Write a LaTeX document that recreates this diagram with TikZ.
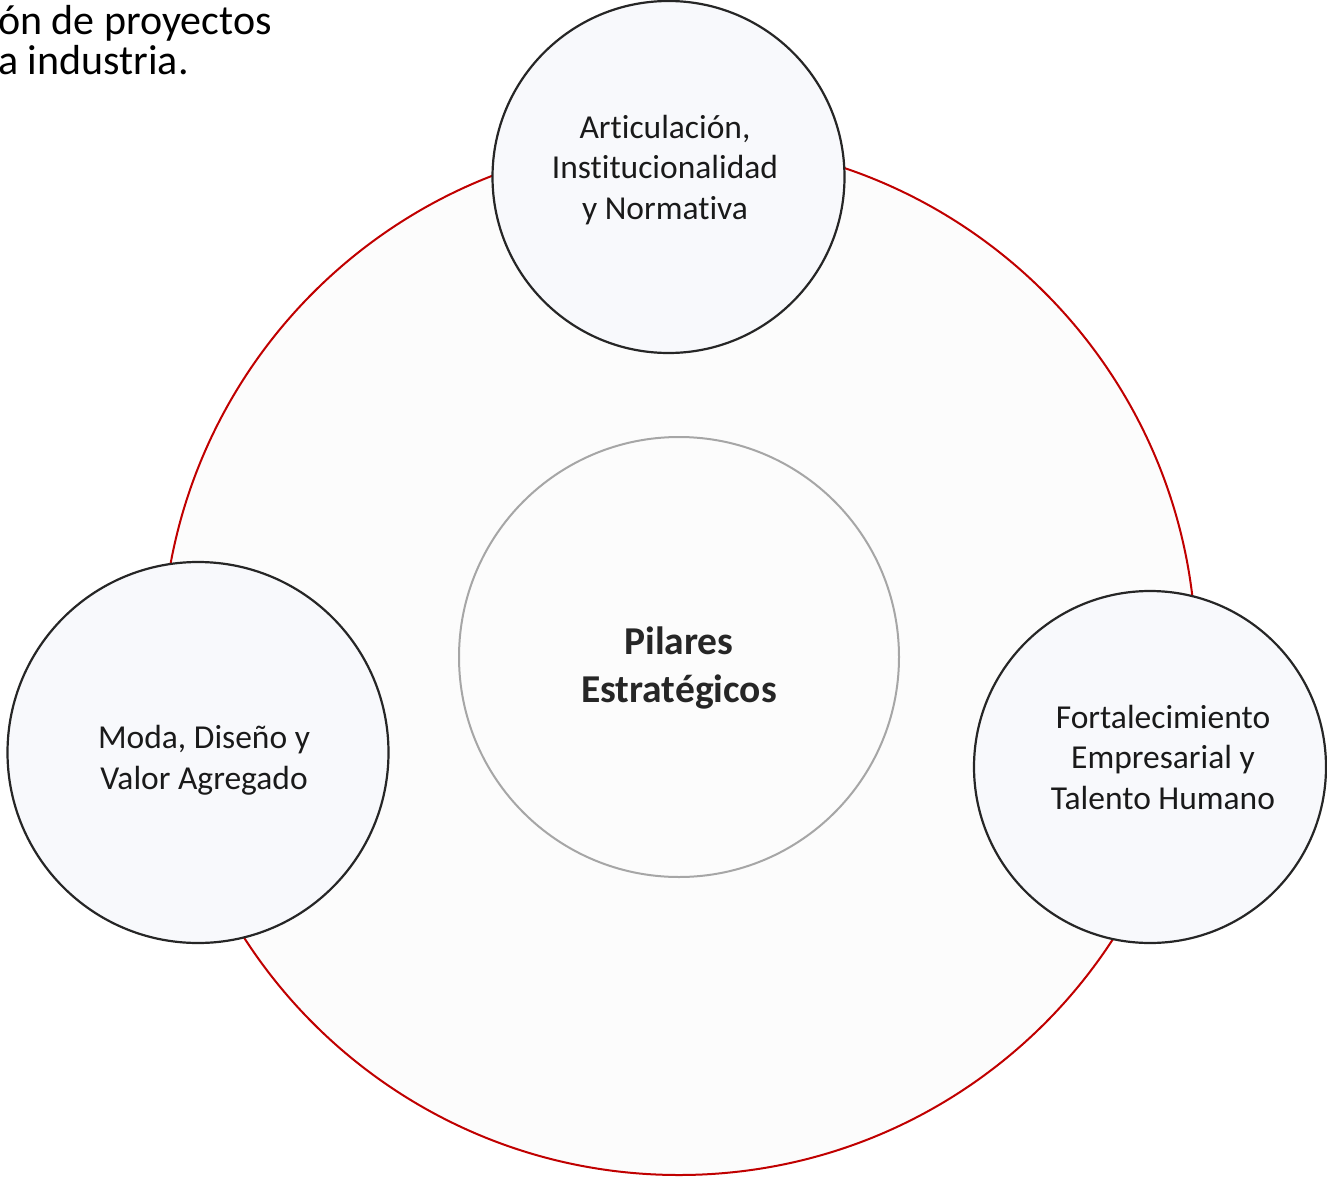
\documentclass[tikz,border=0pt]{standalone}
\usepackage{fontspec}
\setmainfont{Carlito}[Ligatures=NoCommon]
\definecolor{ringred}{HTML}{C00000}
\definecolor{bgfill}{HTML}{FCFCFC}
\definecolor{smallfill}{HTML}{F8F9FC}
\definecolor{darkline}{HTML}{262626}
\definecolor{grayline}{HTML}{A6A6A6}
\definecolor{txt}{HTML}{1A1A1A}
\begin{document}
\begin{tikzpicture}[x=1pt,y=-1pt,
  pillar/.style={circle,draw=darkline,line width=2.2pt,fill=smallfill,inner sep=0pt},
  ptext/.style={align=center,text=txt,font=\fontsize{33.5}{40.5}\selectfont,inner sep=0pt},
]
\useasboundingbox (0,0) rectangle (1327,1177);
\node[circle,draw=ringred,line width=2pt,fill=bgfill,minimum size=1034pt,inner sep=0pt] (ring) at (679,658) {};
\node[circle,draw=grayline,line width=2pt,fill=bgfill,minimum size=440pt,inner sep=0pt] (core) at (679,657) {};
\node[pillar,minimum size=352pt] (top) at (668.5,177) {};
\node[pillar,minimum size=381pt] (left) at (198,752.5) {};
\node[pillar,minimum size=352pt] (right) at (1150,767) {};
\node[ptext,font=\bfseries\fontsize{39.5}{48}\selectfont,text=darkline] (coretext) at (679,668) {Pilares\\Estratégicos};
\node[ptext] (toptext) at (665,170) {Articulación,\\Institucionalidad\\y Normativa};
\node[ptext] (lefttext) at (204,760) {Moda, Diseño y\\Valor Agregado};
\node[ptext] (righttext) at (1163,757) {Fortalecimiento\\Empresarial y\\Talento Humano};
\node[ptext,align=left,anchor=west,text=black,font=\fontsize{42}{40}\selectfont] (corner) at (-2,40) {ón de proyectos\\a industria.};
\end{tikzpicture}
\end{document}
